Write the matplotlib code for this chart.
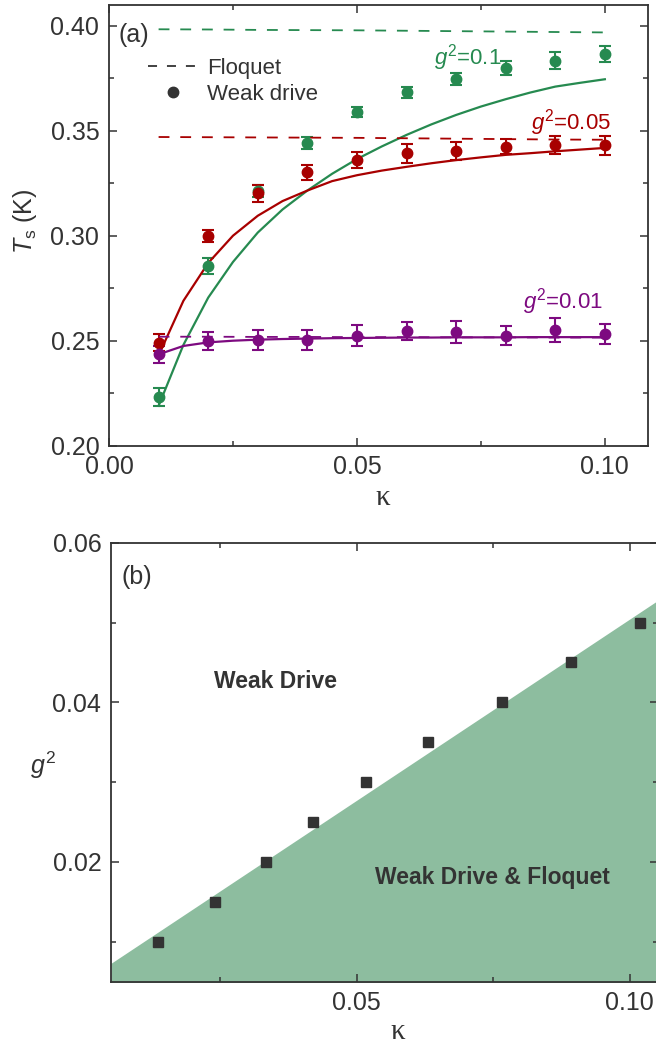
import numpy as np
import matplotlib
matplotlib.use("Agg")
import matplotlib.pyplot as plt
from matplotlib.lines import Line2D

plt.rcParams['font.family'] = ['Liberation Sans', 'DejaVu Sans']
plt.rcParams['mathtext.fontset'] = 'custom'
plt.rcParams['mathtext.rm'] = 'Liberation Sans'
plt.rcParams['mathtext.it'] = 'Liberation Sans:italic'

# ---- panel (a) data ----
kappa_pts = [0.01, 0.02, 0.03, 0.04, 0.05, 0.06, 0.07, 0.08, 0.09, 0.10]

ts_g01 = [0.2233, 0.2856, 0.3213, 0.3443, 0.3590, 0.3683, 0.3745, 0.3800, 0.3833, 0.3864]
err_g01 = [0.0044, 0.0038, 0.0030, 0.0028, 0.0024, 0.0026, 0.0028, 0.0033, 0.0040, 0.0038]
ts_g005 = [0.2490, 0.2999, 0.3202, 0.3303, 0.3360, 0.3392, 0.3403, 0.3424, 0.3432, 0.3430]
err_g005 = [0.0040, 0.0030, 0.0040, 0.0036, 0.0038, 0.0046, 0.0041, 0.0035, 0.0041, 0.0045]
ts_g001 = [0.2435, 0.2499, 0.2503, 0.2503, 0.2524, 0.2546, 0.2543, 0.2524, 0.2551, 0.2532]
err_g001 = [0.0040, 0.0044, 0.0046, 0.0049, 0.0049, 0.0044, 0.0052, 0.0046, 0.0056, 0.0047]

# Floquet (dashed)
floq_g01 = [0.3983, 0.3982, 0.3980, 0.3979, 0.3978, 0.3976, 0.3974, 0.3972, 0.3970, 0.3968]
floq_g005 = [0.3470, 0.3469, 0.3468, 0.3467, 0.3466, 0.3464, 0.3462, 0.3460, 0.3458, 0.3457]
floq_g001 = [0.2519, 0.2519, 0.2518, 0.2518, 0.2517, 0.2517, 0.2516, 0.2516, 0.2515, 0.2515]

# weak drive theory curves (solid)
kappa_curve = [0.01, 0.015, 0.02, 0.025, 0.03, 0.035, 0.04, 0.045, 0.05, 0.055,
               0.06, 0.065, 0.07, 0.075, 0.08, 0.085, 0.09, 0.095, 0.10]
curve_g01 = [0.2190, 0.2480, 0.2705, 0.2875, 0.3015, 0.3125, 0.3215, 0.3295, 0.3365, 0.3425,
             0.3480, 0.3530, 0.3575, 0.3615, 0.3650, 0.3682, 0.3710, 0.3728, 0.3745]
curve_g005 = [0.2430, 0.2690, 0.2870, 0.3000, 0.3095, 0.3165, 0.3215, 0.3260, 0.3288, 0.3310,
              0.3328, 0.3345, 0.3360, 0.3373, 0.3385, 0.3393, 0.3402, 0.3410, 0.3418]
curve_g001 = [0.2435, 0.2475, 0.2492, 0.2500, 0.2505, 0.2508, 0.2510, 0.2512, 0.2513, 0.2514,
              0.2515, 0.2515, 0.2516, 0.2516, 0.2516, 0.2517, 0.2517, 0.2517, 0.2517]

# ---- panel (b) data ----
kappa_b = [0.0137, 0.0240, 0.0334, 0.0420, 0.0517, 0.0631, 0.0766, 0.0893, 0.1019]
g2_b = [0.010, 0.015, 0.020, 0.025, 0.030, 0.035, 0.040, 0.045, 0.050]
bound_k = [0.005, 0.105]
bound_g = [0.0073, 0.0527]

c_green = '#268a50'
c_red = '#a80000'
c_purple = '#7d0a80'
c_dark = '#333333'
c_fill = '#8dbd9f'

fig = plt.figure(figsize=(6.56, 10.46), dpi=100)
ax1 = fig.add_axes([0.1662, 0.5739, 0.8216, 0.4216])
ax2 = fig.add_axes([0.1692, 0.0615, 0.8338, 0.4196])

# panel (a)
for ts, err, fl, cv, c in [(ts_g01, err_g01, floq_g01, curve_g01, c_green),
                           (ts_g005, err_g005, floq_g005, curve_g005, c_red),
                           (ts_g001, err_g001, floq_g001, curve_g001, c_purple)]:
    ax1.plot(kappa_pts, fl, color=c, lw=1.3, dashes=(6, 6))
    ax1.plot(kappa_curve, cv, color=c, lw=1.6)
    ax1.errorbar(kappa_pts, ts, yerr=err, fmt='o', color=c, ms=7.5,
                 elinewidth=1.5, capsize=4, capthick=1.5)

ax1.set_xlim(0.0, 0.1087)
ax1.set_ylim(0.20, 0.41)
ax1.set_xticks([0.00, 0.05, 0.10])
ax1.set_xticks([0.025, 0.075], minor=True)
ax1.set_yticks([0.20, 0.25, 0.30, 0.35, 0.40])
ax1.set_yticks([0.225, 0.275, 0.325, 0.375], minor=True)
ax1.set_xticklabels(['0.00', '0.05', '0.10'])
ax1.set_yticklabels(['0.20', '0.25', '0.30', '0.35', '0.40'])

ax1.text(0.0996, 0.2686, r'$g^2$=0.01', color=c_purple, fontsize=16, ha='right', va='center')
ax1.text(0.0724, 0.3850, r'$g^2$=0.1', color=c_green, fontsize=16, ha='center', va='center')
ax1.text(0.1013, 0.3540, r'$g^2$=0.05', color=c_red, fontsize=16, ha='right', va='center')
ax1.text(0.017, 0.931, '(a)', transform=ax1.transAxes, fontsize=18, color=c_dark, va='center')

handles = [Line2D([], [], color=c_dark, lw=1.3, dashes=(5, 5.5)),
           Line2D([], [], color=c_dark, marker='o', ls='none', ms=7.5)]
leg = ax1.legend(handles, ['Floquet', 'Weak drive'], loc='upper left',
                 bbox_to_anchor=(0.072, 0.88), frameon=False, fontsize=16,
                 handlelength=2.3, handletextpad=0.35, labelspacing=0.25,
                 borderpad=0, borderaxespad=0)
for t in leg.get_texts():
    t.set_color(c_dark)

ax1.set_xlabel('κ', family=['Liberation Serif'], fontsize=21, color=c_dark)
ax1.xaxis.set_label_coords(0.508, -0.088)
ax1.set_ylabel(r'$T_{\rm s}$ (K)', fontsize=18, color=c_dark)
ax1.yaxis.set_label_coords(-0.13, 0.51)

# panel (b)
ax2.fill_between(bound_k, bound_g, 0.0, color=c_fill, lw=0)
ax2.plot(kappa_b, g2_b, 's', color=c_dark, ms=7.5)
ax2.text(0.0352, 0.0426, 'Weak Drive', fontsize=16.5, fontweight='bold', color=c_dark,
         ha='center', va='center')
ax2.text(0.0748, 0.0181, 'Weak Drive & Floquet', fontsize=16.5, fontweight='bold',
         color=c_dark, ha='center', va='center')
ax2.text(0.02, 0.95, '(b)', transform=ax2.transAxes, fontsize=18, color=c_dark, va='top')

ax2.set_xlim(0.005, 0.1052)
ax2.set_ylim(0.005, 0.06)
ax2.set_xticks([0.05, 0.10])
ax2.set_xticks([0.025, 0.075], minor=True)
ax2.set_xticklabels(['0.05', '0.10'])
ax2.set_yticks([0.02, 0.04, 0.06])
ax2.set_yticks([0.01, 0.03, 0.05], minor=True)
ax2.set_yticklabels(['0.02', '0.04', '0.06'])
ax2.set_xlabel('κ', family=['Liberation Serif'], fontsize=21, color=c_dark)
ax2.xaxis.set_label_coords(0.525, -0.085)
ax2.set_ylabel(r'$g^2$', fontsize=18, color=c_dark, rotation=0, va='center')
ax2.yaxis.set_label_coords(-0.124, 0.494)

for ax in (ax1, ax2):
    for s in ax.spines.values():
        s.set_linewidth(1.3)
        s.set_color(c_dark)
    ax.tick_params(which='both', direction='in', top=True, right=True,
                   color=c_dark, width=1.1, labelcolor=c_dark, labelsize=18)
    ax.tick_params(which='major', length=6, pad=7)
    ax.tick_params(which='minor', length=3.5)

fig.savefig('out.png', dpi=100)
